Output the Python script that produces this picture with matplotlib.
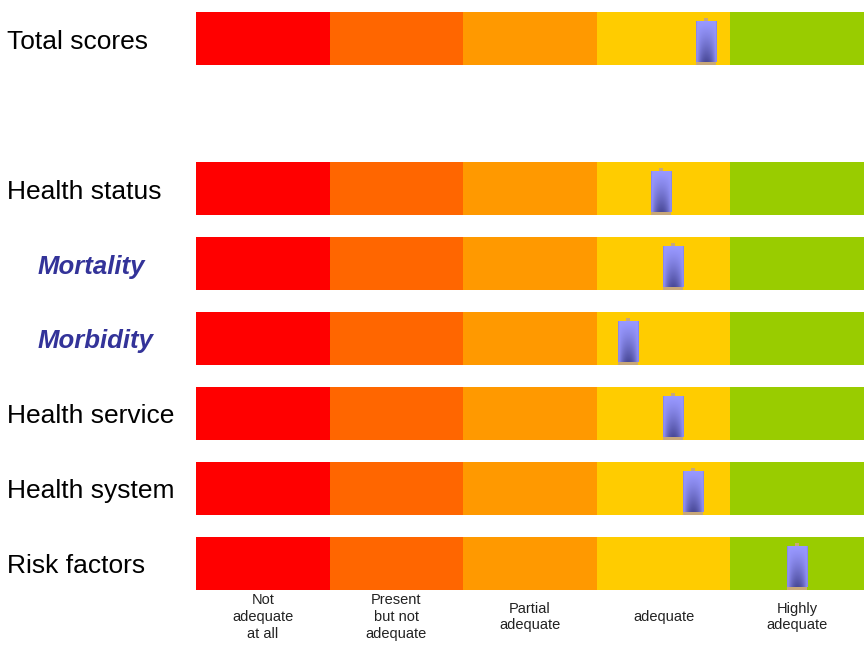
import matplotlib
matplotlib.use("Agg")
import matplotlib.pyplot as plt
import numpy as np
from matplotlib.colors import to_rgb

# data -----------------------------------------------
rows = ["Total scores", "Health status", "Mortality", "Morbidity",
        "Health service", "Health system", "Risk factors"]
row_pos = [0, 2, 3, 4, 5, 6, 7]
sub_rows = ["Mortality", "Morbidity"]
scores = [3.82, 3.48, 3.57, 3.23, 3.57, 3.72, 4.50]

levels = ["Not\nadequate\nat all", "Present\nbut not\nadequate",
          "Partial\nadequate", "adequate", "Highly\nadequate"]
level_colors = ["#FF0000", "#FF6600", "#FF9900", "#FFCC00", "#99CC00"]

# figure ---------------------------------------------
W, H = 864, 648
fig = plt.figure(figsize=(W / 100, H / 100), dpi=100)
ax = fig.add_axes([196 / W, 1 - 590 / H, 668 / W, 578 / H])

bar_h = 0.71
for y in row_pos:
    ax.barh([y] * len(levels), [1] * len(levels), left=np.arange(len(levels)),
            height=bar_h, color=level_colors, edgecolor="none")

ax.set_xlim(0, len(levels))
ax.set_ylim(max(row_pos) + bar_h / 2, -bar_h / 2)
ax.axis("off")

# gradient marker for each score
top_c = np.array(to_rgb("#9898FF"))
bot_c = np.array(to_rgb("#4A4A98"))
edge_c = np.array(to_rgb("#8888EE"))
ny, nx = 40, 20
t = np.linspace(0, 1, ny)[:, None]
u = np.abs(np.linspace(-1, 1, nx))[None, :]
mix = (t ** 1.3) * (1 - u ** 2)
grad = top_c[None, None, :] * (1 - mix[..., None]) + bot_c[None, None, :] * mix[..., None]
grad[:, 0] = edge_c
grad[:, -1] = edge_c

mw = 0.15
for y, s in zip(row_pos, scores):
    ax.imshow(grad, extent=[s - mw / 2, s + mw / 2, y + 0.31, y - 0.235],
              aspect="auto", interpolation="bilinear", zorder=3)
    ax.bar(s, 0.04, width=mw, bottom=y + 0.31, color="#C8A878", zorder=3)
    ax.bar(s, 0.04, width=0.03, bottom=y - 0.275, color="#C8A878", zorder=3)

# row labels
for name, y in zip(rows, row_pos):
    yf = 1 - (15 + (y + bar_h / 2) * 578 / (max(row_pos) + bar_h)) / H
    if name in sub_rows:
        fig.text(38 / W, yf, name, fontsize=18.5, fontstyle="italic",
                 fontweight="bold", color="#333399", va="center",
                 family="Liberation Sans")
    else:
        fig.text(7 / W, yf, name, fontsize=19, color="black", va="center",
                 family="Liberation Sans")

# level labels under the bars
for i, lab in enumerate(levels):
    ax.text(i + 0.5, max(row_pos) + bar_h / 2 + 0.36, lab, ha="center",
            va="center", fontsize=10.5, linespacing=1.25, color="#222222",
            family=["Liberation Sans Narrow", "Liberation Sans"])

fig.savefig("out.png", dpi=100)
